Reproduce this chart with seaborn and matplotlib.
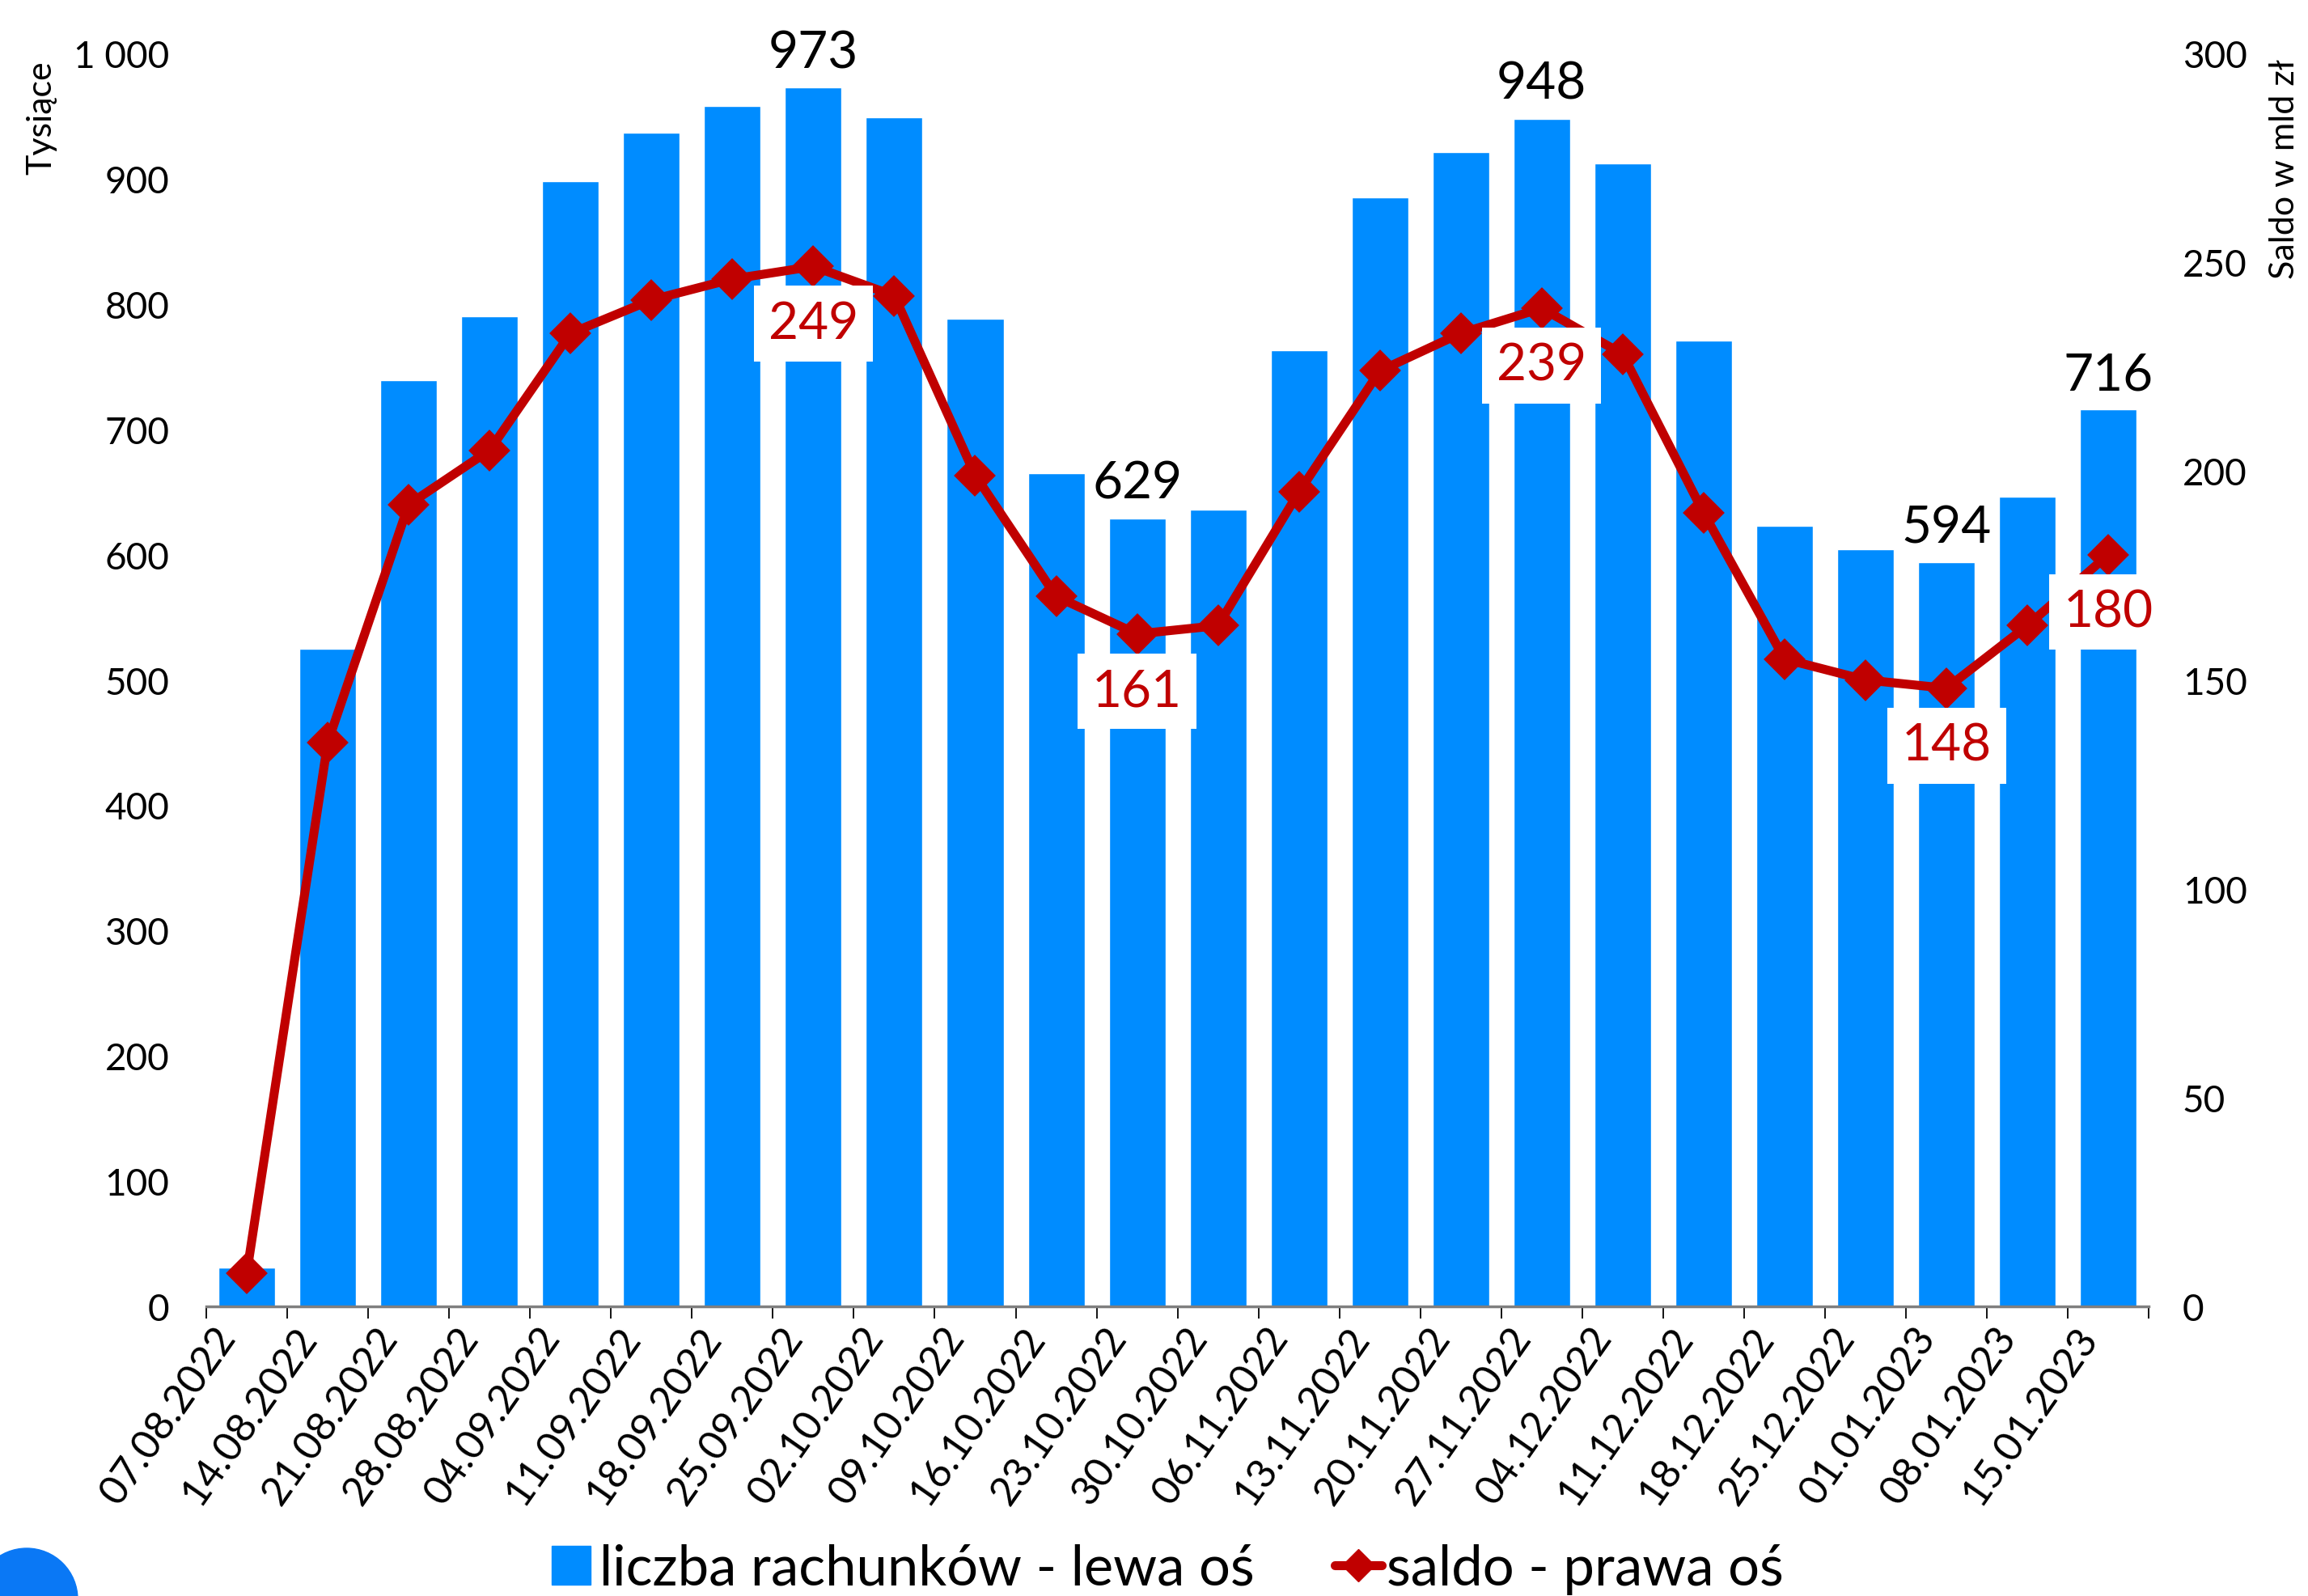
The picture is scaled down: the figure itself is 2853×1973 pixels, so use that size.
import numpy as np
import pandas as pd
import seaborn as sns
import matplotlib.pyplot as plt
import matplotlib.transforms as mtransforms
from matplotlib.ticker import FuncFormatter
from matplotlib.lines import Line2D
from matplotlib.patches import Ellipse

dates = ["07.08.2022", "14.08.2022", "21.08.2022", "28.08.2022", "04.09.2022",
         "11.09.2022", "18.09.2022", "25.09.2022", "02.10.2022", "09.10.2022",
         "16.10.2022", "23.10.2022", "30.10.2022", "06.11.2022", "13.11.2022",
         "20.11.2022", "27.11.2022", "04.12.2022", "11.12.2022", "18.12.2022",
         "25.12.2022", "01.01.2023", "08.01.2023", "15.01.2023"]
accounts = [31, 525, 739, 790, 898, 937, 958, 973, 949, 788, 665, 629,
            636, 763, 885, 921, 948, 912, 771, 623, 604, 594, 646, 716]
saldo = [8, 135, 192, 205, 233, 241, 246, 249, 242, 199, 170, 161,
         163, 195, 224, 233, 239, 228, 190, 155, 150, 148, 163, 180]
bar_label_idx = [7, 11, 16, 21, 23]
line_label_idx = [7, 11, 16, 21, 23]

df = pd.DataFrame({"data": dates, "rachunki": accounts, "saldo": saldo})

BLUE = "#008CFF"
RED = "#C00000"

sns.set_theme(style="white")
plt.rcParams["font.family"] = ["Lato", "DejaVu Sans"]
plt.rcParams["text.color"] = "black"
plt.rcParams["xtick.color"] = "black"
plt.rcParams["ytick.color"] = "black"

fig = plt.figure(figsize=(28.53, 19.74), dpi=100)
ax = fig.add_axes([0.0894, 0.1814, 0.8416, 0.7846])
ax2 = ax.twinx()

sns.barplot(data=df, x="data", y="rachunki", color=BLUE, width=0.7,
            saturation=1, ax=ax)
sns.pointplot(data=df, x="data", y="saldo", color=RED, markers="D",
              markersize=20, linewidth=8, errorbar=None, ax=ax2)

n = len(dates)
ax.set_xlim(-0.5, n - 0.5)
ax.set_ylim(0, 1000)
ax2.set_ylim(0, 300)

for s in ax.spines.values():
    s.set_visible(False)
for s in ax2.spines.values():
    s.set_visible(False)
ax.spines["bottom"].set_visible(True)
ax.spines["bottom"].set_color("#7F7F7F")
ax.spines["bottom"].set_linewidth(2.5)

ax.set_xticks(range(n))
ax.set_xticks(np.arange(-0.5, n, 1), minor=True)
ax.tick_params(axis="x", which="major", length=0, labelsize=36, pad=12)
ax.tick_params(axis="x", which="minor", bottom=True, length=11, width=1.3,
               color="black")
ax.set_xticklabels(dates, rotation=55, ha="right", va="top",
                   rotation_mode="anchor")
# move labels a bit left, like Excel does (after tick_params, which resets transforms)
shift = mtransforms.ScaledTranslation(-42 / 100, 0, fig.dpi_scale_trans)
for lbl in ax.get_xticklabels():
    lbl.set_transform(lbl.get_transform() + shift)

ax.set_yticks(range(0, 1001, 100))
ax.yaxis.set_major_formatter(FuncFormatter(lambda v, p: f"{int(v):,}".replace(",", " ")))
ax.tick_params(axis="y", length=0, labelsize=33, pad=33)
ax2.set_yticks(range(0, 301, 50))
ax2.tick_params(axis="y", length=0, labelsize=33, pad=30)

ax.set_xlabel("")
ax.set_ylabel("")
ax2.set_ylabel("")

for i in bar_label_idx:
    ax.annotate(f"{accounts[i]}", (i, accounts[i]), xytext=(0, 10),
                textcoords="offset points", ha="center", va="bottom",
                fontsize=46)
for i in line_label_idx:
    ax2.annotate(f"{saldo[i]}", (i, saldo[i]), xytext=(0, -51),
                 textcoords="offset points", ha="center", va="center",
                 fontsize=46, color=RED, zorder=10,
                 bbox=dict(boxstyle="square,pad=0.28", fc="white", ec="none"))

fig.text(0.018, 0.962, "Tysiące", rotation=90, ha="center", va="top", fontsize=31)
fig.text(0.99, 0.963, "Saldo w mld zł", rotation=90, ha="center", va="top", fontsize=31)

handles = [
    Line2D([], [], marker="s", ls="none", color=BLUE, markersize=35),
    Line2D([], [], color=RED, lw=8, marker="D", markersize=20),
]
fig.legend(handles=handles,
           labels=["liczba rachunków - lewa oś", "saldo - prawa oś"],
           loc="center", bbox_to_anchor=(0.505, 0.017), ncol=2, frameon=False,
           fontsize=49.5, handlelength=0.85, handletextpad=0.08, columnspacing=1.45)

fig.add_artist(Ellipse((33 / 2853, -4 / 1974), 126 / 2853, 126 / 1974,
                       transform=fig.transFigure, color="#0A78F5"))

fig.savefig("out.png", dpi=100)
